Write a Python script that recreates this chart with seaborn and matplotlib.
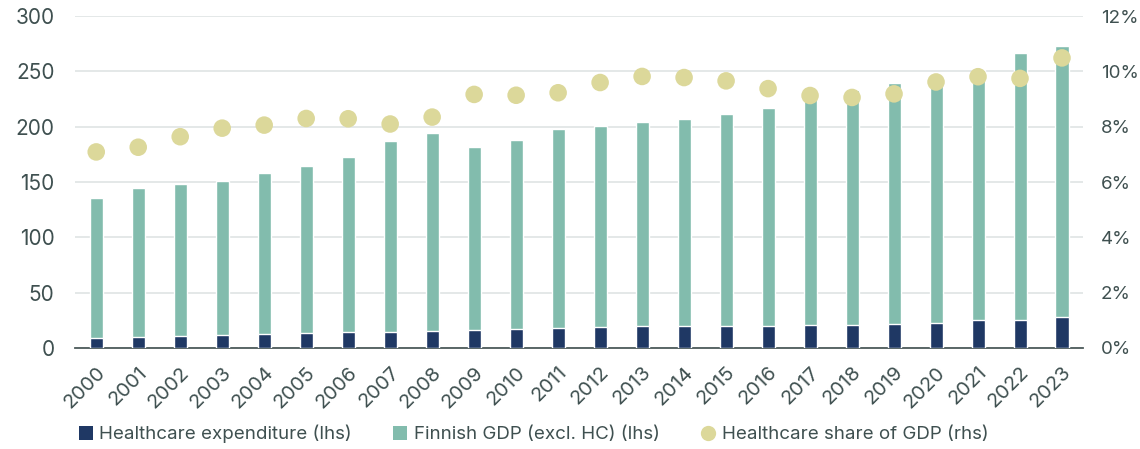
import numpy as np
import pandas as pd
import matplotlib
matplotlib.use("Agg")
import matplotlib.pyplot as plt
import seaborn as sns
from matplotlib.patches import Patch
from matplotlib.lines import Line2D
from matplotlib.ticker import PercentFormatter

years = [str(y) for y in range(2000, 2024)]
hc_exp = [9.3, 10.2, 11.1, 12.0, 12.6, 13.5, 14.4, 14.7, 15.6, 16.5, 17.2, 18.1,
          19.0, 19.6, 20.2, 20.2, 20.2, 20.8, 21.1, 22.0, 22.9, 25.3, 25.6, 28.3]
gdp_total = [136.0, 144.4, 148.3, 151.4, 158.6, 164.3, 173.0, 186.9, 194.1, 181.5,
             187.8, 197.7, 201.0, 204.0, 206.7, 211.2, 217.3, 227.0, 232.9, 239.5,
             244.0, 251.6, 266.9, 272.6]
hc_share = [7.09, 7.26, 7.64, 7.95, 8.06, 8.30, 8.29, 8.10, 8.35, 9.17, 9.14, 9.23,
            9.60, 9.82, 9.78, 9.66, 9.38, 9.13, 9.06, 9.19, 9.62, 9.81, 9.75, 10.49]

navy = "#1f3864"
teal = "#82bcad"
sand = "#dcd89a"
txt = "#3f5050"

df = pd.DataFrame({"year": years, "hc": hc_exp, "total": gdp_total, "share": hc_share})

sns.set_theme(style="white")
plt.rcParams["font.family"] = ["Inter", "DejaVu Sans"]

fig, ax = plt.subplots(figsize=(11.4, 4.49), dpi=100)
fig.subplots_adjust(left=0.066, right=0.950, top=0.964, bottom=0.225)

# stacked bars: total (GDP) behind, healthcare in front
sns.barplot(data=df, x="year", y="total", color=teal, width=0.31, saturation=1, ax=ax, zorder=2)
sns.barplot(data=df, x="year", y="hc", color=navy, width=0.31, saturation=1, ax=ax, zorder=3)

ax.set_ylim(0, 300)
ax.set_xlim(-0.5, len(years) - 0.5)
ax.set_yticks(range(0, 301, 50))
ax.yaxis.grid(True, color="#e2e6e6", linewidth=1.3, zorder=0)
ax.set_axisbelow(True)
ax.set_xlabel("")
ax.set_ylabel("")
for s in ["top", "right", "left"]:
    ax.spines[s].set_visible(False)
ax.spines["bottom"].set_color("#4d5b5b")
ax.spines["bottom"].set_linewidth(1.3)
ax.tick_params(axis="y", length=0, pad=15, labelsize=15, labelcolor=txt)
ax.tick_params(axis="x", length=0, pad=11, labelsize=14.5, labelcolor=txt)
plt.setp(ax.get_xticklabels(), rotation=45, ha="right", rotation_mode="anchor")

# share of GDP on right axis
ax2 = ax.twinx()
sns.scatterplot(x=np.arange(len(years)), y=df["share"], color=sand, s=160,
                edgecolor="none", ax=ax2, zorder=5, legend=False)
ax2.set_ylim(0, 12)
ax2.set_yticks(range(0, 13, 2))
ax2.yaxis.set_major_formatter(PercentFormatter(decimals=0))
ax2.set_ylabel("")
for s in ax2.spines.values():
    s.set_visible(False)
ax2.tick_params(axis="y", length=0, pad=13, labelsize=13.5, labelcolor=txt)
ax2.set_xlim(-0.5, len(years) - 0.5)

handles = [
    Patch(facecolor=navy, edgecolor="none", label="Healthcare expenditure (lhs)"),
    Patch(facecolor=teal, edgecolor="none", label="Finnish GDP (excl. HC) (lhs)"),
    Line2D([], [], marker="o", linestyle="none", markersize=11, markerfacecolor=sand,
           markeredgecolor="none", label="Healthcare share of GDP (rhs)"),
]
leg = fig.legend(handles=handles, loc="center left", bbox_to_anchor=(0.069, 0.033), ncol=3,
                 frameon=False, fontsize=13.5, handlelength=0.75, handleheight=0.75,
                 handletextpad=0.35, columnspacing=2.2, borderpad=0, borderaxespad=0,
                 labelcolor=txt)

fig.savefig("out.png", dpi=100)
